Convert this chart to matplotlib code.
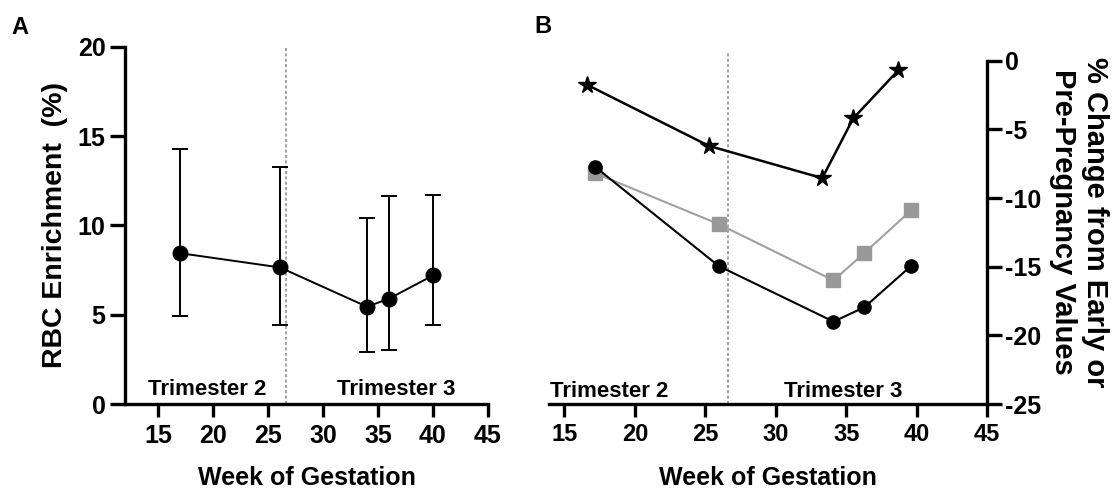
import matplotlib
matplotlib.use("Agg")
import matplotlib.pyplot as plt

plt.rcParams['font.family'] = ['Liberation Sans', 'DejaVu Sans']
plt.rcParams['font.weight'] = 'bold'
plt.rcParams['axes.unicode_minus'] = False

# Panel A: RBC enrichment
weeks_a = [17.0, 26.1, 34.0, 36.0, 40.0]
rbc_mean = [8.45, 7.65, 5.45, 5.9, 7.2]
rbc_upper = [14.3, 13.3, 10.4, 11.65, 11.7]
rbc_lower = [4.95, 4.4, 2.9, 3.0, 4.4]

# Panel B: % change series
weeks_star = [16.6, 25.25, 33.3, 35.5, 38.7]
pct_star = [-1.75, -6.2, -8.55, -4.2, -0.7]
weeks_b = [17.2, 25.95, 34.1, 36.3, 39.6]
pct_circle = [-7.75, -14.95, -19.0, -17.95, -14.95]
pct_square = [-8.2, -11.9, -16.0, -14.0, -10.9]

trimester_split = 26.6
xticks = [15, 20, 25, 30, 35, 40, 45]

fig = plt.figure(figsize=(11.12, 4.9), dpi=100)
axA = fig.add_axes([0.1124, 0.1755, 0.3264, 0.7286])
axB = fig.add_axes([0.4937, 0.1755, 0.3939, 0.7286])

spine_w = 2.4

# ---- A ----
err_lo = [m - l for m, l in zip(rbc_mean, rbc_lower)]
err_hi = [u - m for m, u in zip(rbc_mean, rbc_upper)]
axA.errorbar(weeks_a, rbc_mean, yerr=[err_lo, err_hi], color='k', lw=1.4,
             marker='o', ms=10.5, capsize=5.8, elinewidth=1.4, capthick=1.4, zorder=3)
axA.plot([trimester_split, trimester_split], [0, 20], color='#8a8a8a', lw=1.1,
         ls=(0, (2, 1.5)), zorder=1)
axA.set_xlim(12, 45)
axA.set_ylim(0, 20)
axA.set_xticks(xticks)
axA.set_yticks([0, 5, 10, 15, 20])
for s in ['top', 'right']:
    axA.spines[s].set_visible(False)
for s in ['left', 'bottom']:
    axA.spines[s].set_linewidth(spine_w)
axA.tick_params(axis='x', length=9.5, width=spine_w, labelsize=18, pad=5)
axA.tick_params(axis='y', length=11, width=spine_w, labelsize=18, pad=3)
axA.set_xlabel('Week of Gestation', fontsize=18, fontweight='bold', labelpad=13)
axA.set_ylabel('RBC Enrichment  (%)', fontsize=20.5, fontweight='bold', labelpad=7)
axA.text(19.5, 0.5, 'Trimester 2', fontsize=16, fontweight='bold', ha='center', va='baseline')
axA.text(36.7, 0.5, 'Trimester 3', fontsize=16, fontweight='bold', ha='center', va='baseline')

# ---- B ----
axB.plot(weeks_b, pct_square, color='#a0a0a0', lw=1.5, marker='s', ms=9.5,
         mfc='#999999', mec='#999999', zorder=2)
axB.plot(weeks_b, pct_circle, color='k', lw=1.5, marker='o', ms=9.5, zorder=3)
axB.plot(weeks_star, pct_star, color='k', lw=1.8, marker='*', ms=13, zorder=3)
axB.plot([trimester_split, trimester_split], [-25, 0.6], color='#8a8a8a', lw=1.1,
         ls=(0, (2, 1.5)), zorder=1)
axB.set_xlim(13.9, 45)
axB.set_ylim(-25, 1.0)
axB.set_xticks(xticks)
axB.set_yticks([0, -5, -10, -15, -20, -25])
axB.yaxis.tick_right()
axB.yaxis.set_label_position('right')
for s in ['top', 'left']:
    axB.spines[s].set_visible(False)
for s in ['right', 'bottom']:
    axB.spines[s].set_linewidth(spine_w)
axB.spines['right'].set_bounds(-25, 0)
axB.tick_params(axis='x', length=9, width=spine_w, labelsize=17, pad=5)
axB.tick_params(axis='y', length=11, width=spine_w, labelsize=18, pad=2)
axB.set_xlabel('Week of Gestation', fontsize=18, fontweight='bold', labelpad=14)
axB.set_ylabel('% Change from Early or\nPre-Pregnancy Values', fontsize=21,
               fontweight='bold', rotation=-90, va='center', ha='center')
axB.yaxis.set_label_coords(1.21, 0.51)
axB.text(18.2, -24.5, 'Trimester 2', fontsize=16, fontweight='bold', ha='center', va='baseline')
axB.text(34.8, -24.5, 'Trimester 3', fontsize=16, fontweight='bold', ha='center', va='baseline')

fig.text(0.010, 0.930, 'A', fontsize=17, fontweight='bold')
fig.text(0.481, 0.932, 'B', fontsize=17, fontweight='bold')

fig.savefig('out.png', dpi=100)
